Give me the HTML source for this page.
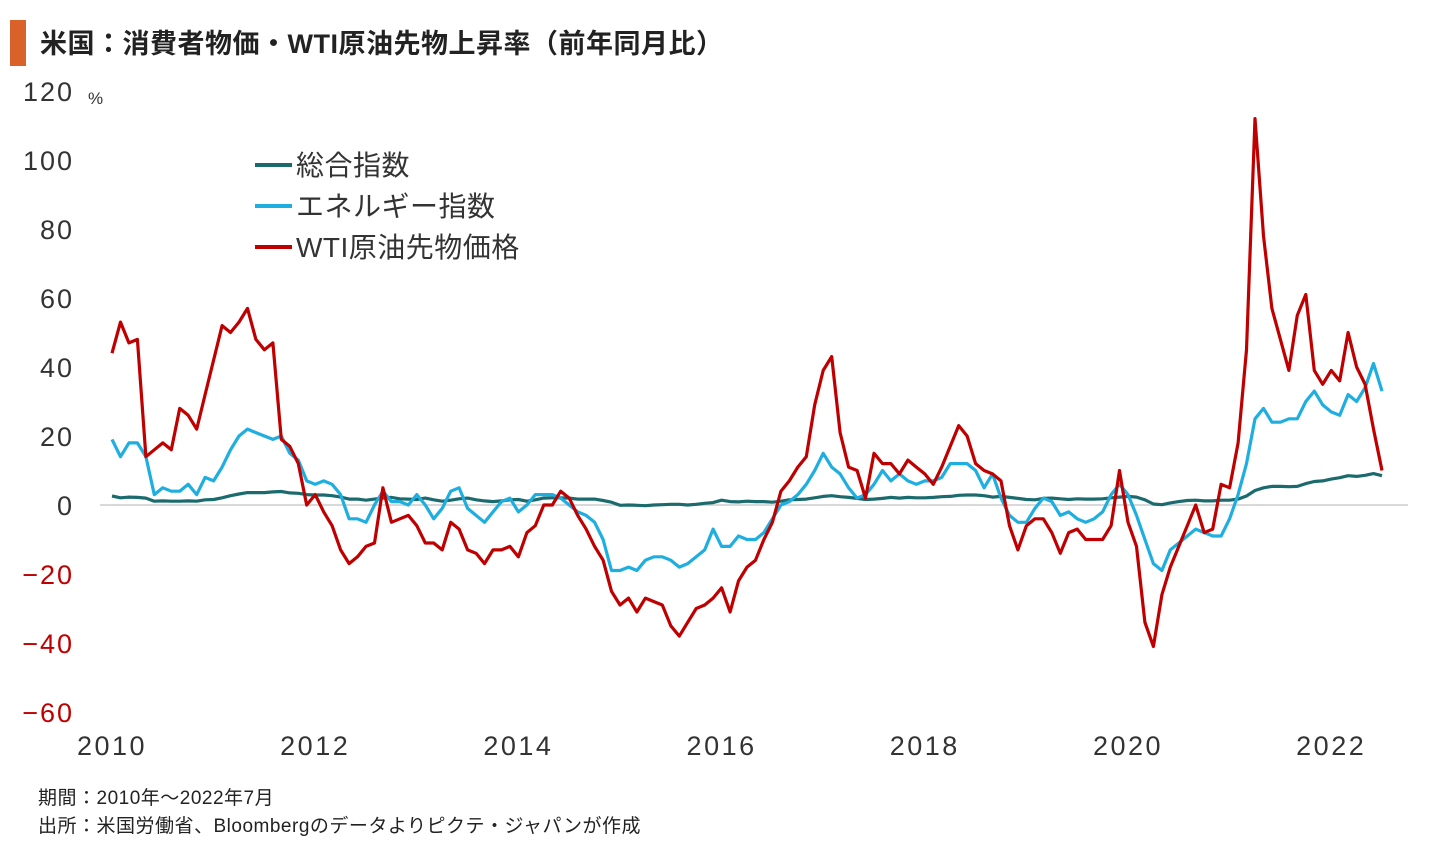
<!DOCTYPE html>
<html><head><meta charset="utf-8"><style>
body{margin:0;background:#fff;width:1440px;height:847px;overflow:hidden;font-family:"Liberation Sans","Noto Sans CJK JP",sans-serif}
svg text{font-family:"Liberation Sans","Noto Sans CJK JP",sans-serif}
</style></head><body>
<svg id="c" width="1440" height="847">
<rect x="10" y="20" width="16" height="46" fill="#d9622b"/>
<text x="40" y="53" font-size="27" font-weight="bold" fill="#222" letter-spacing="0.5">米国：消費者物価・WTI原油先物上昇率（前年同月比）</text>
<text x="88" y="104" font-size="17" fill="#333">%</text>
<line x1="100" y1="505" x2="1408" y2="505" stroke="#d9d9d9" stroke-width="2"/>
<g id="yt"></g><g id="xt"></g><g id="ln"></g>
<g>
<line x1="255" y1="165" x2="292" y2="165" stroke="#1b6b6e" stroke-width="4"/>
<text x="296" y="175" font-size="28" fill="#333" letter-spacing="0.5">総合指数</text>
<line x1="255" y1="206" x2="292" y2="206" stroke="#1eaee0" stroke-width="4"/>
<text x="296" y="216" font-size="28" fill="#333" letter-spacing="0.5">エネルギー指数</text>
<line x1="255" y1="247" x2="292" y2="247" stroke="#c00000" stroke-width="4"/>
<text x="296" y="257" font-size="28" fill="#333" letter-spacing="0.5">WTI原油先物価格</text>
</g>
<text x="38" y="804" font-size="19" fill="#222" letter-spacing="0.5">期間：2010年～2022年7月</text>
<text x="38" y="832" font-size="19" fill="#222" letter-spacing="0.5">出所：米国労働省、Bloombergのデータよりピクテ・ジャパンが作成</text>
</svg>
<script>
const yTicks=[120,100,80,60,40,20,0,-20,-40,-60];
const xYears=[2010,2012,2014,2016,2018,2020,2022];
const cpi=[2.6,2.1,2.3,2.2,2.0,1.1,1.2,1.1,1.1,1.2,1.1,1.5,1.6,2.1,2.7,3.2,3.6,3.6,3.6,3.8,3.9,3.5,3.4,3.0,2.9,2.9,2.7,2.3,1.7,1.7,1.4,1.7,2.0,2.2,1.8,1.7,1.6,2.0,1.5,1.1,1.4,1.8,2.0,1.5,1.2,1.0,1.2,1.5,1.6,1.1,1.5,2.0,2.1,2.1,2.0,1.7,1.7,1.7,1.3,0.8,-0.1,0,-0.1,-0.2,0,0.1,0.2,0.2,0,0.2,0.5,0.7,1.4,1.0,0.9,1.1,1.0,1.0,0.8,1.1,1.5,1.6,1.7,2.1,2.5,2.7,2.4,2.2,1.9,1.6,1.7,1.9,2.2,2.0,2.2,2.1,2.1,2.2,2.4,2.5,2.8,2.9,2.9,2.7,2.3,2.5,2.2,1.9,1.6,1.5,1.9,2.0,1.8,1.6,1.8,1.7,1.7,1.8,2.1,2.3,2.5,2.3,1.5,0.3,0.1,0.6,1.0,1.3,1.4,1.2,1.2,1.4,1.4,1.7,2.6,4.2,5.0,5.4,5.4,5.3,5.4,6.2,6.8,7.0,7.5,7.9,8.5,8.3,8.6,9.1,8.5];
const energy=[19,14,18,18,14,3,5,4,4,6,3,8,7,11,16,20,22,21,20,19,20,15,13,7,6,7,6,3,-4,-4,-5,0,4,1,1,0,3,0,-4,-1,4,5,-1,-3,-5,-2,1,2,-2,0,3,3,3,2,0,-2,-3,-5,-10,-19,-19,-18,-19,-16,-15,-15,-16,-18,-17,-15,-13,-7,-12,-12,-9,-10,-10,-8,-4,0,1,3,6,10,15,11,9,5,2,3,6,10,7,9,7,6,7,7,8,12,12,12,10,5,9,2,-3,-5,-5,-1,2,1,-3,-2,-4,-5,-4,-2,3,6,3,-3,-10,-17,-19,-13,-11,-9,-7,-8,-9,-9,-4,3,12,25,28,24,24,25,25,30,33,29,27,26,32,30,34,41,33];
const wti=[44,53,47,48,14,16,18,16,28,26,22,32,42,52,50,53,57,48,45,47,19,17,12,0,3,-2,-6,-13,-17,-15,-12,-11,5,-5,-4,-3,-6,-11,-11,-13,-5,-7,-13,-14,-17,-13,-13,-12,-15,-8,-6,0,0,4,2,-3,-7,-12,-16,-25,-29,-27,-31,-27,-28,-29,-35,-38,-34,-30,-29,-27,-24,-31,-22,-18,-16,-10,-5,4,7,11,14,29,39,43,21,11,10,2,15,12,12,9,13,11,9,6,11,17,23,20,12,10,9,7,-6,-13,-6,-4,-4,-8,-14,-8,-7,-10,-10,-10,-6,10,-5,-12,-34,-41,-26,-18,-12,-6,0,-8,-7,6,5,18,45,112,78,57,48,39,55,61,39,35,39,36,50,40,35,22,10];
const NS="http://www.w3.org/2000/svg";
const X0=112,PXY=101.6;
function xm(i){return X0+i*PXY/12;}
function xy(yr){return X0+(yr-2010)*PXY;}
function yv(v){return 505-v*3.45;}
const yt=document.getElementById('yt');
yTicks.forEach(v=>{const t=document.createElementNS(NS,'text');


t.setAttribute('x',74);t.setAttribute('y',yv(v)+10);t.setAttribute('text-anchor','end');t.setAttribute('font-size','27');t.setAttribute('letter-spacing','2');t.setAttribute('fill',v<0?'#c00000':'#333');t.textContent=v<0?'−'+(-v):String(v);yt.appendChild(t);});
const xt=document.getElementById('xt');
xYears.forEach(yr=>{const t=document.createElementNS(NS,'text');


t.setAttribute('x',xy(yr));t.setAttribute('y',755);t.setAttribute('text-anchor','middle');t.setAttribute('font-size','27');t.setAttribute('letter-spacing','2.5');t.setAttribute('fill','#333');t.textContent=yr;xt.appendChild(t);});
const ln=document.getElementById('ln');
function line(arr,col,name){const p=document.createElementNS(NS,'polyline');


p.setAttribute('points',arr.map((v,i)=>xm(i).toFixed(1)+','+yv(v).toFixed(1)).join(' '));p.setAttribute('fill','none');p.setAttribute('stroke',col);p.setAttribute('stroke-width','3.2');p.setAttribute('stroke-linejoin','round');ln.appendChild(p);}
line(cpi,'#1b6b6e','cpi-line');
line(energy,'#1eaee0','energy-line');
line(wti,'#c00000','wti-line');
</script>
</body></html>
